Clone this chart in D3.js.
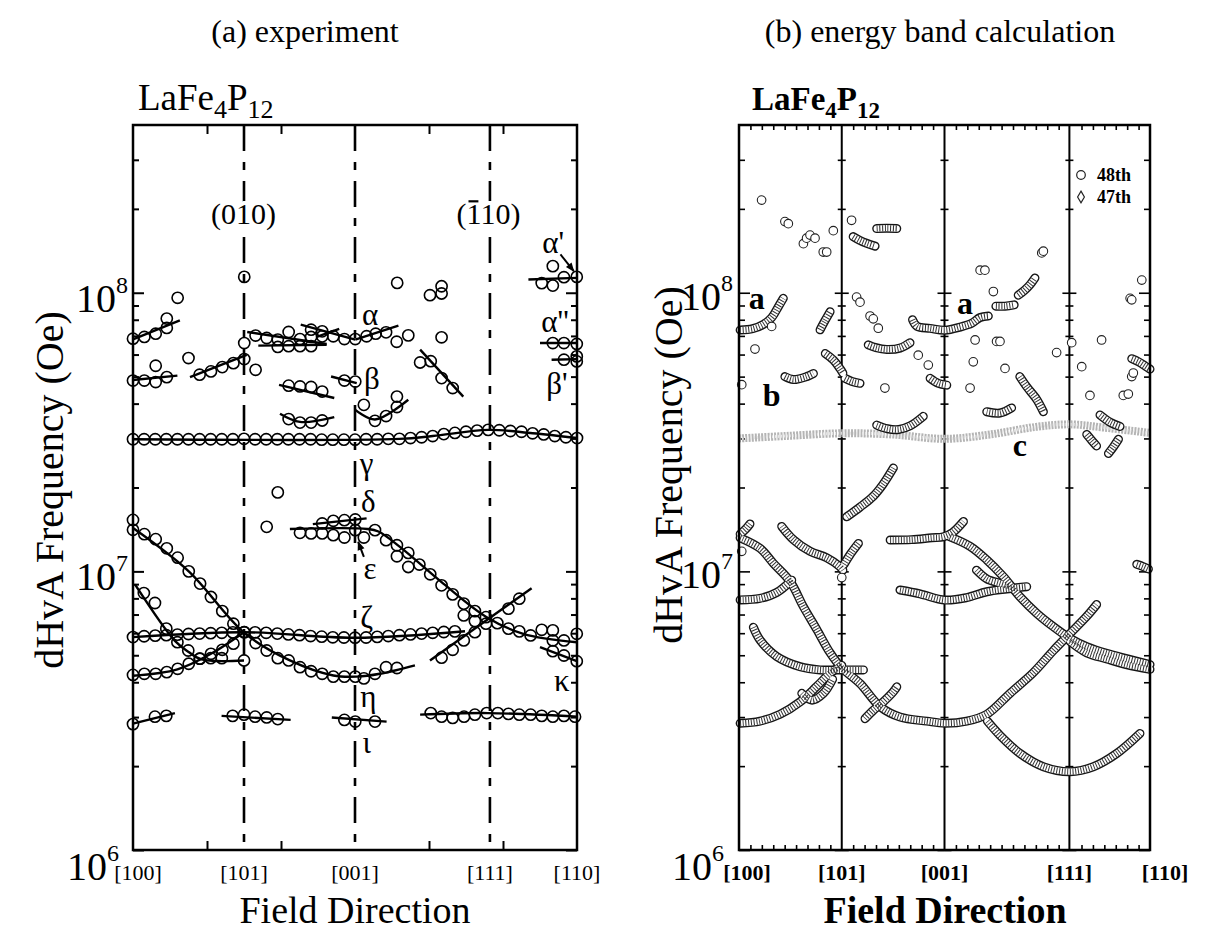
<!DOCTYPE html>
<html>
<head>
<meta charset="utf-8">
<script src="https://cdn.jsdelivr.net/npm/d3@7"></script>
<style>
  body { margin: 0; background: #fff; }
  svg { font-family: "Liberation Serif", "Times New Roman", serif; }
  .frame { fill: none; stroke: #000; stroke-width: 2.5; }
  .tick line { stroke: #000; stroke-width: 2; }
  .calc .tick line { stroke-width: 1.6; }
  .fit { fill: none; stroke: #000; stroke-width: 2.4; }
  .exp-pt { fill: none; stroke: #000; stroke-width: 1.6; }
  .calc-pt { fill: #fff; stroke: #222; stroke-width: 1.1; }
  .bold { font-weight: bold; }
</style>
</head>
<body>
<svg id="chart" width="1226" height="931"></svg>
<script>
// ---- shared labels ----
const directions = ["[100]", "[101]", "[001]", "[111]", "[110]"];
const directionAngles = [0, 45, 90, 144.7, 180];
const decades = [1, 10, 100];           // frequency in units of 10^6 Oe
const decadeExponents = ["6", "7", "8"];

// ---- (a) experiment: points [angle (deg), F (10^6 Oe)] ----
const gammaPts = [[0,29.8],[4.5,29.8],[9,29.8],[13.5,29.8],[18,29.8],[22.5,29.8],[27,29.8],[31.5,29.8],[36,29.8],[40.5,29.8],[45,29.9],[49.5,29.8],[54,29.8],[58.5,29.8],[63,29.8],[67.5,29.8],[72,29.8],[76.5,29.7],[81,29.7],[85.5,29.7],[90,29.7],[94.5,29.8],[99,29.8],[103.5,29.9],[108,29.9],[112.5,30.1],[117,30.3],[121.5,30.6],[126,31.1],[130.5,31.4],[135,31.7],[139.5,32.0],[144,32.2],[148.5,32.1],[153,31.9],[157.5,31.7],[162,31.3],[166.5,31.0],[171,30.6],[175.5,30.3],[180,30.1]];
const zetaPts = [[0,5.81],[4.5,5.85],[9,5.88],[13.5,5.9],[18,5.93],[22.5,5.96],[27,5.98],[31.5,6.0],[36,6.02],[40.5,6.04],[45,6.05],[49.5,6.04],[54,6.02],[58.5,5.98],[63,5.94],[67.5,5.9],[72,5.86],[76.5,5.83],[81,5.8],[85.5,5.79],[90,5.78],[94.5,5.79],[99,5.82],[103.5,5.86],[108,5.9],[112.5,5.94],[117,5.98],[121.5,6.02],[126,6.06],[130.5,6.09]];
const iotaPts = [[0,2.83],[8.9,3.01],[13.5,3.03],[40.4,3.03],[45,3.06],[49.5,3.01],[54.2,2.99],[58.7,2.95],[85.7,2.93],[90.1,2.89],[98.1,2.89],[120.7,3.1],[125.1,3.01],[129.6,2.98],[134.2,3.01],[138.6,3.06],[143.4,3.1],[147.9,3.1],[152.2,3.08],[156.6,3.06],[161.2,3.06],[165.7,3.03],[170.2,3.01],[174.7,3.03],[179.2,3.01]];
const etaPts = [[0,15.3],[0,14.1],[4.6,13.6],[9.2,13.05],[13.7,12.1],[18.1,11.2],[22.6,10.0],[27.2,9.04],[31.6,8.09],[36.2,7.2],[40.7,6.49],[45.2,6.05],[49.7,5.53],[54.2,5.2],[58.7,4.88],[63.1,4.79],[67.7,4.53],[72.2,4.38],[76.7,4.29],[81.2,4.19],[85.7,4.19],[90.1,4.19],[93.6,4.13],[98.1,4.29],[102.6,4.53],[107,4.5]];
const etaRisePts = [[125.1,4.9],[129.6,5.23],[134.1,5.65],[138.6,6.05],[143.1,6.49],[152.2,7.35],[156.6,7.98]];
const lowRisePts = [[0,4.25],[4.6,4.29],[9.2,4.29],[13.7,4.35],[18.1,4.47],[22.6,4.66],[27.2,4.86],[31.6,5.06],[36.2,5.23],[40.7,5.5]];
const steepPts = [[4.4,8.36],[8.9,7.7],[13.5,6.23],[18,5.57],[22.4,5.2],[27,4.86],[31.5,4.88],[36,4.88],[45,4.79]];
const epsilonPts = [[67.7,13.75],[72.2,13.68],[76.7,13.68],[81.2,13.49],[85.7,13.23],[90.1,14.06],[93.6,13.23],[98.1,14.06],[102.6,12.94],[107,12.41],[107,11.33],[111.6,10.37],[111.6,11.65],[116.1,10.58],[120.5,9.76],[125.1,8.91],[129.6,8.27],[134.1,7.66],[134.1,6.95],[138.6,7.2],[138.6,6.63],[143.1,6.85],[147.7,6.52],[152.2,6.23],[156.6,6.09],[161.2,5.89],[165.7,6.17],[170.2,6.14],[170.2,5.65],[174.7,5.65],[179.9,5.97]];
const deltaPts = [[76.7,14.86],[81.2,15.19],[85.7,15.27],[90.1,15.36],[58.7,19.21],[54.2,14.45]];
const kappaPts = [[170.2,5.17],[174.7,4.99],[179.9,4.76]];
const alphaPts = [[0,68.4],[4.6,69.4],[9.2,71.3],[13.7,80.8],[13.7,74.8],[49.7,70.2],[54.2,68.8],[58.7,67.9],[63.1,72.3],[67.7,68.2],[72.2,69.4],[76.7,69.75],[58.7,63.9],[63.1,64.3],[67.7,64.3],[72.2,64.3],[72.2,73.7],[76.7,72.7],[81.2,69.8],[85.7,68.2],[90.1,68.2],[94.7,69.8],[98.4,71.3],[102.6,72.1],[106.9,66.7],[111.6,70.3]];
const betaPts = [[0,48.4],[4.6,48.4],[9.2,47.8],[9.2,54.7],[13.7,49.8],[27,50.8],[31.6,52.2],[36.2,54.1],[40.7,55.9],[45.1,57.8],[45.1,66.0],[49.7,52.9],[63.1,46.4],[67.7,46.1],[72.2,45.9],[76.7,44.2],[63.1,35.2],[67.7,34.2],[72.2,34.2],[76.7,34.8],[85.7,48.4],[90.1,48.0],[93.6,39.6],[98.1,34.7],[102.6,36.1],[107,38.9],[107,42.4],[116.4,56.2],[120.7,56.8],[125.1,49.4],[129.6,45.5]];
const edgePts = [[165.7,108.3],[170.2,106.1],[170.2,124.6],[174.7,113.7],[179.9,114],[170.2,66.0],[174.7,66.0],[179.9,65.5],[174.7,57.5],[179.9,59.1],[179.9,56.7]];
const strayPts = [[18.1,95.9],[22.5,58.3],[45.1,114],[107.1,108.5],[120.4,98],[125.1,105.5],[125.1,99.4],[125.1,69.2]];

// fitted lines drawn through the experimental branches
const expFits = [
  [[0,29.8],[108,29.9],[121.5,30.6],[144,32.2],[162,31.3],[180,30.1]],
  [[0,5.81],[45,6.05],[90,5.78],[134.6,6.1]],
  [[0,2.84],[17,3.1]], [[35.9,3.03],[63.9,2.93]], [[80.6,2.99],[102.8,2.89]], [[116.4,3.06],[143.9,3.1],[180,3.01]],
  [[0,14.3],[22.6,10.0],[45.1,6.02],[63.6,4.79],[81.2,4.23],[90.7,4.19],[100.1,4.29],[114.3,4.6]],
  [[120.4,4.79],[161.6,8.7]],
  [[0,4.22],[18,4.45],[31.6,5.06],[45,6.05]],
  [[0.8,8.98],[17,5.63],[22.4,5.15],[27.8,4.83],[45,4.79]],
  [[63.6,14.2],[95,14.2],[99.5,13.9],[108.2,12.24],[125.8,9.04],[143.4,6.85],[158.2,5.97],[179.9,5.57]],
  [[72.9,14.77],[94.7,15.49]],
  [[165,5.35],[179.9,4.76]],
  [[0,68],[19,79.6]], [[0,48.6],[18,50.4]], [[23.1,49.8],[46.1,59.9]],
  [[46.3,72.3],[78.5,65.5]], [[50.8,64.6],[78.5,65.1]], [[68,76.8],[90.1,67.9]], [[74.5,69.4],[83.6,74.2]], [[90.1,67.9],[107.6,76.2]],
  [[59.2,46.7],[81.6,41.9]], [[59.6,36.8],[67.7,34.4],[81.6,35.8]], [[80.3,50.06],[90.7,47.4]],
  [[90.1,38.0],[98.1,35.1],[111.6,41.3]], [[116.4,62.5],[133.9,42.4]],
  [[160.3,111.6],[180,113.1]], [[165,66.0],[180,66.0]], [[169.7,57.5],[179.9,57.8]]
];

const expLabels = [
  {t:"α",a:96.1,f:83.5},{t:"β",a:96.8,f:49.5},{t:"γ",a:94.7,f:24.5},{t:"δ",a:95.4,f:17.8},
  {t:"ε",a:96.1,f:10.26},{t:"ζ",a:94.7,f:6.85},{t:"η",a:95.4,f:3.58},{t:"ι",a:94.7,f:2.43},
  {t:"κ",a:173.8,f:4.06},{t:"α'",a:170.3,f:151.6},{t:"α''",a:171.1,f:78.8},{t:"β'",a:171.9,f:47.5}
];
const planeLabels = [{t:"(010)",a:44.8,f:192,bar:-1},{t:"(110)",a:144.1,f:192,bar:1}];
const expArrows = [{from:[173.3,137.2],to:[178.7,119.5]},{from:[93.6,11.27],to:[91.3,12.76]}];

// ---- (b) energy band calculation ----
const band48Curves = [
  [[0.5,73.5],[6,74.3],[10.7,77],[14.3,81.4],[17.2,89],[19.4,95.5]],
  [[20.1,50],[23.8,48.8],[29.6,50],[32.6,51.3]],
  [[35.5,73.6],[37.5,79],[39.9,85.5]],
  [[37.8,60.5],[41.3,57.4],[44.2,53.5],[45.5,51.5]],
  [[46.4,49.3],[49.5,48],[53,47.3]],
  [[50,159],[53,154],[55.9,150.5],[59.6,147]],
  [[60.3,170],[64.7,170.5],[69.1,170]],
  [[56.6,65],[60,63.5],[64.7,62.6],[70.5,63.3],[74.9,66.2]],
  [[83.7,49.3],[87.3,47.3],[91,46.6]],
  [[76,80],[78,75.7],[83.7,74.5],[90.2,73.4],[96.8,75.3],[101.9,77.7],[105.6,81.5],[109.2,82.5]],
  [[112.5,89.5],[116.5,89.5],[120.5,90.5]],
  [[122.3,98],[125,102],[127.5,107],[129.6,113]],
  [[123,50],[126,46],[130.4,41.4],[133.3,37.4]],
  [[108.5,37.4],[114.3,37],[119.4,38.6]],
  [[172,58],[175,56.5],[178,54.5],[180,53.2]],
  [[158.1,36.4],[162.5,34.3],[166.9,33.1]],
  [[152.3,31],[154.5,29.5],[156.6,28.2]],
  [[161.8,26.5],[164,28],[166.2,29.8]],
  [[60.3,33.5],[65,32.5],[70,32.3],[75,33.3],[80.7,36]],
  [[47.2,15.7],[53,17.0],[58.8,18.6],[63,20.5],[67.6,23.5]],
  [[0.5,13.6],[3,14.2],[4.8,14.8]],
  [[0.5,13.2],[9.2,12.1],[15,10.7],[22.4,9.2],[28.2,7.47],[34,6.2],[39.9,5.1],[45,4.5],[53,3.96],[61.8,3.27],[70.5,3.0],[82.2,2.9],[90.2,2.85],[99.7,2.9],[108.5,3.07],[118.7,3.65],[128.9,4.33],[137.7,5.2],[145,5.99],[152.3,6.9],[156.6,7.6]],
  [[0.5,7.9],[9.2,8.0],[16.5,8.4],[23.1,9.3]],
  [[18.7,14.5],[23.8,13.0],[31.1,11.8],[38.4,11.2],[44.2,10.4],[45.5,10.1]],
  [[46,10.6],[49,11.6],[52.3,12.6]],
  [[6.3,6.3],[9.2,5.67],[16.5,4.95],[26.7,4.55],[35.5,4.43],[45,4.43],[54.5,4.43]],
  [[0.5,2.85],[9.2,2.9],[18,3.07],[26.7,3.4],[34,3.86],[39.9,4.31],[45,4.6]],
  [[27.5,3.65],[32,3.45],[37,3.65],[41,4.1]],
  [[55.2,2.96],[58.8,3.17],[62.5,3.36],[67.6,3.7],[69.1,3.85]],
  [[66.2,12.96],[75.6,13.0],[84.4,13.2],[89.5,13.3],[93.6,13.8],[98.3,15.1]],
  [[92.4,13.3],[101.2,12.3],[108.5,11],[115.8,9.57],[123.1,8.1],[130.4,7.07],[137.7,6.33],[145,5.75],[152.3,5.37],[161,5.08],[169.8,4.86],[180,4.63]],
  [[145,5.6],[152.3,5.1],[161,4.85],[170,4.62],[180,4.45]],
  [[70.5,8.57],[79.3,8.3],[90.2,7.89],[99.7,8.05],[108.5,8.45],[117.2,8.65],[126,8.81]],
  [[104,10.1],[108.5,9.4],[114.3,9.06],[118.7,8.81]],
  [[108.8,2.9],[114.3,2.58],[123.1,2.22],[133.3,1.99],[145,1.91],[155.2,1.99],[165.4,2.22],[175.6,2.62]],
  [[174.2,10.6],[177,10.4],[179.3,10.2]]
];
const band48Points = [[9.9,215],[20.1,180],[21.6,177],[28.2,150],[29.6,157],[31.1,161],[33.3,157],[36.9,140],[38.4,140],[41.3,167],[49.3,182],[51.5,96.5],[53,92.5],[57.4,82.5],[58.8,80.6],[61,74.6],[63.9,45.5],[78.5,59.7],[82.9,55],[103.4,67.7],[112.8,66.9],[114.3,66.9],[102.6,56.5],[116.5,53.5],[101.2,45.5],[105.6,120.5],[107.7,120.5],[111.4,101],[132.6,139],[133.3,141],[139.1,61],[145.7,66.2],[176.4,111],[171.3,95.5],[172,94.3],[158.8,67.7],[150.1,54.3],[153.7,42.8],[168.3,42.8],[170.5,43.3],[172,50],[172.7,51.5],[7,62.8],[14.3,75.7],[1.2,46.8],[1.2,11.8],[45,9.5]];
const band47C = [[0,30.0],[20,30.6],[45,31.3],[67,31.0],[90,29.9],[110,31.0],[130,33.0],[145,33.7],[160,32.8],[180,31.4]];
const calcLabels = [{t:"a",a:7.8,f:96},{t:"b",a:14.3,f:43},{t:"a",a:99,f:92},{t:"c",a:123,f:28.4}];
const legendItems = ["48th", "47th"];

// ---- scales ----
const svg = d3.select("#chart");
const yScale = d3.scaleLog().domain([1, 400]).range([850, 125]);
const xExp = d3.scaleLinear().domain([0, 180]).range([133, 577]);
const xCalc = d3.scaleLinear().domain([0, 180]).range([739, 1150]);
const minorY = yScale.ticks().filter(v => v < 400 && !decades.includes(v));

svg.append("defs").append("marker")
  .attr("id", "arrow").attr("viewBox", "0 0 10 10").attr("refX", 9).attr("refY", 5)
  .attr("markerUnits", "userSpaceOnUse")
  .attr("markerWidth", 11).attr("markerHeight", 9).attr("orient", "auto")
  .append("path").attr("d", "M0,1 L10,5 L0,9 Z").attr("fill", "#000");

function yAxes(g, x0, x1, cls) {
  const left = g.append("g").attr("class", cls).attr("transform", `translate(${x0},0)`);
  left.call(d3.axisLeft(yScale).tickValues(minorY).tickSize(-6).tickFormat(""));
  left.call(a => a.append("g").call(d3.axisLeft(yScale).tickValues(decades).tickSize(-11).tickFormat("")));
  const right = g.append("g").attr("class", cls).attr("transform", `translate(${x1},0)`);
  right.call(d3.axisRight(yScale).tickValues(minorY).tickSize(-6).tickFormat(""));
  right.call(a => a.append("g").call(d3.axisRight(yScale).tickValues(decades).tickSize(-11).tickFormat("")));
  g.selectAll(".domain").remove();
}

function decadeLabels(x, x0, dy) {
  decades.forEach((v, i) => {
    const t = svg.append("text").attr("x", i === 0 ? x0 : x).attr("y", yScale(v) + (i === 0 ? 30 : dy))
      .attr("text-anchor", "end");
    t.append("tspan").attr("font-size", 40).text("10");
    t.append("tspan").attr("font-size", 24).attr("dy", -19).text(decadeExponents[i]);
  });
}

function formula(x, cls, big, small) {
  const f = svg.append("text").attr("class", cls).attr("x", x).attr("y", 110).attr("font-size", big);
  f.append("tspan").text("LaFe");
  f.append("tspan").attr("font-size", small).attr("dy", 8).text("4");
  f.append("tspan").attr("dy", -8).text("P");
  f.append("tspan").attr("font-size", small).attr("dy", 8).text("12");
}

// ================= (a) experiment =================
const pa = svg.append("g");
svg.append("text").attr("x", 305).attr("y", 42).attr("text-anchor", "middle")
  .attr("font-size", 32).text("(a) experiment");
formula(138, "", 37, 26);

yAxes(pa, 133, 577, "expaxis");
pa.append("g").attr("transform", "translate(0,850)")
  .call(d3.axisBottom(xExp).tickValues([30, 60, 120, 150]).tickSize(-9).tickFormat(""))
  .call(g => g.select(".domain").remove());
pa.append("g").attr("transform", "translate(0,125)")
  .call(d3.axisTop(xExp).tickValues([30, 60, 120, 150]).tickSize(-9).tickFormat(""))
  .call(g => g.select(".domain").remove());

pa.selectAll("line.dir").data(directionAngles.slice(1, 4)).join("line")
  .attr("x1", d => xExp(d)).attr("x2", d => xExp(d))
  .attr("y1", 125).attr("y2", 850)
  .attr("stroke", "#000").attr("stroke-width", 2.6).attr("stroke-dasharray", "26,11,8,11");

const expLine = d3.line().x(d => xExp(d[0])).y(d => yScale(d[1])).curve(d3.curveCatmullRom.alpha(0.5));
pa.selectAll("path.fit").data(expFits).join("path").attr("class", "fit").attr("d", expLine);

const allExp = [gammaPts, zetaPts, iotaPts, etaPts, etaRisePts, lowRisePts, steepPts, epsilonPts,
  deltaPts, kappaPts, alphaPts, betaPts, edgePts, strayPts].flat();
pa.selectAll("circle.exp-pt").data(allExp).join("circle").attr("class", "exp-pt")
  .attr("cx", d => xExp(d[0])).attr("cy", d => yScale(d[1])).attr("r", 5.6);

pa.append("rect").attr("class", "frame").attr("x", 133).attr("y", 125).attr("width", 444).attr("height", 725);

pa.selectAll("text.greek").data(expLabels).join("text").attr("class", "greek")
  .attr("x", d => xExp(d.a)).attr("y", d => yScale(d.f)).attr("dy", "0.35em")
  .attr("text-anchor", "middle").attr("font-size", 31).text(d => d.t);

planeLabels.forEach(p => {
  const t = pa.append("text").attr("x", xExp(p.a)).attr("y", yScale(p.f)).attr("dy", "0.35em")
    .attr("text-anchor", "middle").attr("font-size", 30)
    .attr("stroke", "#fff").attr("stroke-width", 8).attr("paint-order", "stroke").text(p.t);
  if (p.bar > 0) {
    const n = t.node();
    const s = n.getStartPositionOfChar(p.bar), e = n.getEndPositionOfChar(p.bar);
    pa.append("line").attr("x1", s.x + 2).attr("x2", e.x - 2)
      .attr("y1", s.y - 23).attr("y2", s.y - 23).attr("stroke", "#000").attr("stroke-width", 2.2);
  }
});

pa.selectAll("line.arrow").data(expArrows).join("line").attr("class", "arrow")
  .attr("x1", d => xExp(d.from[0])).attr("y1", d => yScale(d.from[1]))
  .attr("x2", d => xExp(d.to[0])).attr("y2", d => yScale(d.to[1]))
  .attr("stroke", "#000").attr("stroke-width", 2).attr("marker-end", "url(#arrow)");

decadeLabels(128, 119, 19);
svg.selectAll("text.dirA").data(directions).join("text").attr("class", "dirA")
  .attr("x", (d, i) => xExp(directionAngles[i]) + (i === 0 ? 5 : 0)).attr("y", 880)
  .attr("text-anchor", "middle").attr("font-size", 22).text(d => d);
svg.append("text").attr("x", 355).attr("y", 923).attr("text-anchor", "middle")
  .attr("font-size", 38).text("Field Direction");
svg.append("text").attr("transform", "translate(63,490) rotate(-90)").attr("text-anchor", "middle")
  .attr("font-size", 40).text("dHvA Frequency (Oe)");

// ================= (b) energy band calculation =================
const pb = svg.append("g").attr("class", "calc");
svg.append("text").attr("x", 940).attr("y", 42).attr("text-anchor", "middle")
  .attr("font-size", 32).text("(b) energy band calculation");
formula(752, "bold", 33, 23);

yAxes(pb, 739, 1150, "calcaxis");
const minorX = d3.range(5, 180, 5).filter(v => v !== 45 && v !== 90 && v !== 145);
pb.append("g").attr("transform", "translate(0,850)")
  .call(d3.axisBottom(xCalc).tickValues(minorX).tickSize(-5).tickFormat(""))
  .call(g => g.select(".domain").remove());
pb.append("g").attr("transform", "translate(0,125)")
  .call(d3.axisTop(xCalc).tickValues(minorX).tickSize(-5).tickFormat(""))
  .call(g => g.select(".domain").remove());

directionAngles.slice(1, 4).forEach(a => {
  const x = xCalc(a);
  pb.append("line").attr("x1", x).attr("x2", x).attr("y1", 125).attr("y2", 850)
    .attr("stroke", "#000").attr("stroke-width", 2);
  [d3.axisLeft, d3.axisRight].forEach(ax => {
    const g = pb.append("g").attr("transform", `translate(${x},0)`);
    g.call(ax(yScale).tickValues(minorY).tickSize(4).tickFormat(""));
    g.append("g").call(ax(yScale).tickValues(decades).tickSize(7).tickFormat(""));
    g.selectAll(".domain").remove();
  });
});

const calcLine = d3.line().x(d => xCalc(d[0])).y(d => yScale(d[1])).curve(d3.curveCatmullRom.alpha(0.5));
pb.append("path").datum(band47C).attr("d", calcLine).attr("fill", "none")
  .attr("stroke", "#b4b4b4").attr("stroke-width", 8).attr("stroke-dasharray", "2,1.2");
pb.append("path").datum(band47C).attr("d", calcLine).attr("fill", "none")
  .attr("stroke", "#e6e6e6").attr("stroke-width", 3).attr("stroke-dasharray", "1,2");

const chains = pb.append("g");
chains.selectAll("path.outer").data(band48Curves).join("path").attr("class", "outer")
  .attr("d", calcLine).attr("fill", "none").attr("stroke", "#151515")
  .attr("stroke-width", 9).attr("stroke-linecap", "round");
chains.selectAll("path.inner").data(band48Curves).join("path").attr("class", "inner")
  .attr("d", calcLine).attr("fill", "none").attr("stroke", "#fff")
  .attr("stroke-width", 6.2).attr("stroke-linecap", "round");
chains.selectAll("path.hatch").data(band48Curves).join("path").attr("class", "hatch")
  .attr("d", calcLine).attr("fill", "none").attr("stroke", "#333")
  .attr("stroke-width", 6.2).attr("stroke-dasharray", "1,1.7");

pb.selectAll("circle.calc-pt").data(band48Points).join("circle").attr("class", "calc-pt")
  .attr("cx", d => xCalc(d[0])).attr("cy", d => yScale(d[1])).attr("r", 4.3);

pb.append("rect").attr("class", "frame").attr("x", 739).attr("y", 125).attr("width", 411).attr("height", 725);

pb.selectAll("text.lab").data(calcLabels).join("text").attr("class", "lab bold")
  .attr("x", d => xCalc(d.a)).attr("y", d => yScale(d.f)).attr("dy", "0.35em")
  .attr("text-anchor", "middle").attr("font-size", 32).text(d => d.t);

const leg = pb.append("g").attr("transform", "translate(1081,175)");
leg.append("circle").attr("r", 4.3).attr("fill", "#fff").attr("stroke", "#222").attr("stroke-width", 1.2);
leg.append("path").attr("transform", "translate(0,22)")
  .attr("d", d3.symbol(d3.symbolDiamond, 40)).attr("fill", "#fff").attr("stroke", "#222").attr("stroke-width", 1.2);
leg.selectAll("text").data(legendItems).join("text").attr("class", "bold")
  .attr("x", 16).attr("y", (d, i) => i * 22 + 6).attr("font-size", 18).text(d => d);

decadeLabels(733, 724, 17);
svg.selectAll("text.dirB").data(directions).join("text").attr("class", "dirB bold")
  .attr("x", (d, i) => xCalc(directionAngles[i]) + (i === 4 ? 15 : i === 0 ? 8 : 0)).attr("y", 880)
  .attr("text-anchor", "middle").attr("font-size", 22).text(d => d);
svg.append("text").attr("class", "bold").attr("x", 945).attr("y", 923).attr("text-anchor", "middle")
  .attr("font-size", 38).text("Field Direction");
svg.append("text").attr("transform", "translate(682,465) rotate(-90)").attr("text-anchor", "middle")
  .attr("font-size", 40).text("dHvA Frequency (Oe)");
</script>
</body>
</html>
